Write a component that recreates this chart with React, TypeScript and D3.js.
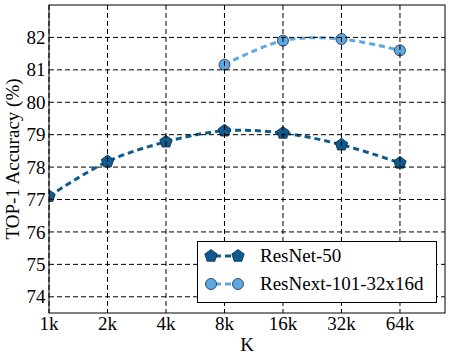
import React from "react";
import * as d3 from "d3";

const kLabels = ["1k", "2k", "4k", "8k", "16k", "32k", "64k"];
const yTicks = [74, 75, 76, 77, 78, 79, 80, 81, 82];
const resnetK = [0, 1, 2, 3, 4, 5, 6];
const resnetAcc = [77.1, 78.17, 78.78, 79.12, 79.05, 78.69, 78.13];
const resnextK = [3, 4, 5, 6];
const resnextAcc = [81.16, 81.9, 81.95, 81.6];

const W = 453, H = 356;
const L = 49, R = 445, T = 5, B = 313;
const darkBlue = "#0f5a8e";
const lightBlue = "#5ea8e2";
const FONT = "Liberation Serif, Times New Roman, DejaVu Serif, serif";
const FS = 19;
const txt: React.CSSProperties = { fontFamily: FONT, fontSize: FS };

function pentagon(cx: number, cy: number, r: number) {
  const pts: string[] = [];
  for (let i = 0; i < 5; i++) {
    const a = -Math.PI / 2 + (i * 2 * Math.PI) / 5;
    pts.push(`${cx + r * Math.cos(a)},${cy + r * Math.sin(a)}`);
  }
  return pts.join(" ");
}

export default function App() {
  const x = d3.scaleLinear().domain([0, 6.77]).range([L, R]);
  const y = d3.scaleLinear().domain([73.5, 83]).range([B, T]);
  const line = d3
    .line<[number, number]>()
    .x((d) => x(d[0]))
    .y((d) => y(d[1]))
    .curve(d3.curveCatmullRom.alpha(0.5));
  const resnet: [number, number][] = resnetK.map((k, i) => [k, resnetAcc[i]]);
  const resnext: [number, number][] = resnextK.map((k, i) => [k, resnextAcc[i]]);

  return (
    <svg width={W} height={H} style={{ position: "absolute", left: 0, top: 0 }}>
      <defs>
        <clipPath id="plotclip">
          <rect x={L} y={T} width={R - L} height={B - T} />
        </clipPath>
      </defs>
      <rect x={0} y={0} width={W} height={H} fill="white" />
      <g clipPath="url(#plotclip)">
        <path d={line(resnet) || ""} fill="none" stroke={darkBlue} strokeWidth={3} strokeDasharray="6,4" />
        <path d={line(resnext) || ""} fill="none" stroke={lightBlue} strokeWidth={3} strokeDasharray="6,4" />
        {resnet.map((d, i) => (
          <polygon key={"p" + i} points={pentagon(x(d[0]), y(d[1]), 6.5)} fill={darkBlue} stroke="#0a2a44" strokeWidth={0.8} />
        ))}
        {resnext.map((d, i) => (
          <circle key={"c" + i} cx={x(d[0])} cy={y(d[1])} r={5.5} fill={lightBlue} stroke="#1a2a3a" strokeWidth={0.8} />
        ))}
      </g>
      {kLabels.map((_, i) => (
        <line key={"gx" + i} x1={x(i)} x2={x(i)} y1={T} y2={B} stroke="black" strokeWidth={1} strokeDasharray="5,3" />
      ))}
      {yTicks.map((v) => (
        <line key={"gy" + v} x1={L} x2={R} y1={y(v)} y2={y(v)} stroke="black" strokeWidth={1} strokeDasharray="5,3" />
      ))}
      <rect x={L} y={T} width={R - L} height={B - T} fill="none" stroke="black" strokeWidth={1} />
      {yTicks.map((v) => (
        <text key={"ty" + v} x={L - 3.5} y={y(v)} dy="0.35em" textAnchor="end" style={txt} fill="black">
          {v}
        </text>
      ))}
      {kLabels.map((s, i) => (
        <text key={"tx" + i} x={x(i)} y={329.5} textAnchor="middle" style={txt} fill="black">
          {s}
        </text>
      ))}
      <text x={(L + R) / 2} y={351} textAnchor="middle" style={txt} fill="black">K</text>
      <text transform={`translate(19,${(T + B) / 2}) rotate(-90)`} textAnchor="middle" style={txt} fill="black">
        TOP-1 Accuracy (%)
      </text>
      <rect x={197.5} y={241.5} width={239} height={61} fill="white" stroke="black" strokeWidth={1} />
      <line x1={211} x2={238} y1={256} y2={256} stroke={darkBlue} strokeWidth={3} strokeDasharray="6,4" strokeDashoffset={-4} />
      <polygon points={pentagon(211, 256, 6.5)} fill={darkBlue} stroke="#0a2a44" strokeWidth={0.8} />
      <polygon points={pentagon(238, 256, 6.5)} fill={darkBlue} stroke="#0a2a44" strokeWidth={0.8} />
      <text x={260} y={262} style={txt} fill="black">ResNet-50</text>
      <line x1={211} x2={238} y1={284} y2={284} stroke={lightBlue} strokeWidth={3} strokeDasharray="6,4" strokeDashoffset={-4} />
      <circle cx={211} cy={284} r={5.5} fill={lightBlue} stroke="#1a2a3a" strokeWidth={0.8} />
      <circle cx={238} cy={284} r={5.5} fill={lightBlue} stroke="#1a2a3a" strokeWidth={0.8} />
      <text x={260} y={290} style={txt} fill="black">ResNext-101-32x16d</text>
    </svg>
  );
}
